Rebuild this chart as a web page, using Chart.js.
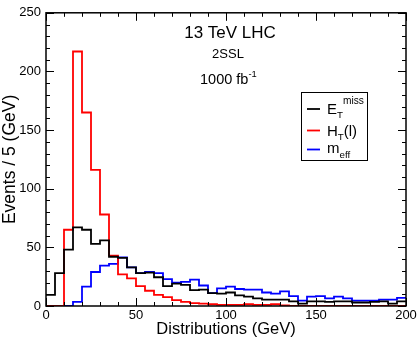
<!DOCTYPE html>
<html>
<head>
<meta charset="utf-8">
<script src="https://cdn.jsdelivr.net/npm/chart.js@4.4.1/dist/chart.umd.min.js"></script>
<style>
  html, body { margin: 0; padding: 0; background: #fff; }
  #wrap { width: 420px; height: 342px; }
</style>
</head>
<body>
<div id="wrap"><canvas id="histChart" width="420" height="342"></canvas></div>
<script>
// lower bin edges (GeV), bins are 5 GeV wide
const binEdges = [0, 5, 10, 15, 20, 25, 30, 35, 40, 45, 50, 55, 60, 65, 70, 75, 80, 85, 90, 95,
                  100, 105, 110, 115, 120, 125, 130, 135, 140, 145, 150, 155, 160, 165, 170, 175, 180, 185, 190, 195];
const lastEdge = 200;

const etMiss = [9.5, 28, 48, 67, 65, 53, 56, 42, 41, 33, 28, 28.5, 24.5, 17, 19, 18, 13.5, 14, 11, 10.5,
                11.5, 9, 8, 6.5, 5.5, 5.5, 5.5, 4, 2, 4, 4, 3.5, 4, 4, 3, 3, 3.5, 4, 2, 4];
const htLep = [0, 0, 65, 217, 165, 116, 78, 43, 27, 23.5, 17, 13, 9.5, 7.5, 5, 3.5, 2.5, 2, 1.5, 1,
               1, 1, 1.5, 1, 1, 1.5, 0.5, 0, 0, 0, 0, 0, 0, 0, 0, 0, 0, 0, 0, 0];
const mEff = [0, 0, 0, 3.5, 16.5, 29, 34.5, 36, 41.5, 33, 28, 29, 28, 23, 20, 20.5, 22.5, 17.5, 11, 15,
              16.5, 14.5, 14, 14, 11.5, 10.5, 12.5, 8.5, 4.5, 8, 8.5, 6.5, 8, 6.5, 4.5, 4.5, 4.5, 5.5, 5.5, 7];

const xTicks = [0, 50, 100, 150, 200];
const yTicks = [0, 50, 100, 150, 200, 250];

const FONT = '"Liberation Sans", Arial, Helvetica, sans-serif';

// each bin value is held from its lower edge to the next edge
function toSteps(vals) {
  const pts = binEdges.map((e, i) => ({ x: e, y: vals[i] }));
  pts.push({ x: lastEdge, y: vals[vals.length - 1] });
  return pts;
}

function histSet(label, vals, color) {
  return {
    label,
    data: toSteps(vals),
    borderColor: color,
    backgroundColor: color,
    borderWidth: 1.8,
    stepped: 'before',
    pointRadius: 0,
    fill: false
  };
}

// frame + inward ticks on all four sides, like the grace plot
const frameTicks = {
  id: 'frameTicks',
  afterDatasetsDraw(chart) {
    const { ctx, chartArea: a, scales: { x, y } } = chart;
    ctx.save();
    ctx.strokeStyle = '#000';
    ctx.lineWidth = 1;
    ctx.beginPath();
    for (let v = x.min; v <= x.max; v += 10) {
      const px = Math.round(x.getPixelForValue(v)) + 0.5;
      const len = xTicks.includes(v) ? 8 : 4;
      ctx.moveTo(px, a.bottom); ctx.lineTo(px, a.bottom - len);
      ctx.moveTo(px, a.top); ctx.lineTo(px, a.top + len);
    }
    for (let v = y.min; v <= y.max; v += 10) {
      const py = Math.round(y.getPixelForValue(v)) + 0.5;
      const len = yTicks.includes(v) ? 8 : 4;
      ctx.moveTo(a.left, py); ctx.lineTo(a.left + len, py);
      ctx.moveTo(a.right, py); ctx.lineTo(a.right - len, py);
    }
    ctx.stroke();
    ctx.lineWidth = 1.5;
    ctx.strokeRect(a.left, a.top, a.right - a.left, a.bottom - a.top);
    ctx.restore();
  }
};

// text with sub / superscripts for the labels and legend
function richText(ctx, x, y, parts, size) {
  let cx = x;
  parts.forEach(p => {
    const s = p.s ? size * p.s : size;
    ctx.font = s + 'px ' + FONT;
    ctx.fillText(p.t, cx, y + (p.dy || 0));
    cx += ctx.measureText(p.t).width;
  });
}

const notes = {
  id: 'notes',
  afterDraw(chart) {
    const ctx = chart.ctx;
    ctx.save();
    ctx.fillStyle = '#000';
    ctx.textBaseline = 'alphabetic';
    ctx.textAlign = 'center';
    ctx.font = '17px ' + FONT;
    ctx.fillText('13 TeV LHC', 230, 38);
    ctx.font = '13px ' + FONT;
    ctx.fillText('2SSL', 228, 58);
    ctx.textAlign = 'left';
    richText(ctx, 200, 84, [{ t: '1000 fb' }, { t: '-1', s: 0.65, dy: -7 }], 14.5);

    // legend box
    ctx.lineWidth = 1;
    ctx.strokeStyle = '#000';
    ctx.strokeRect(301.5, 92.5, 66, 68);
    const rows = [
      { c: '#000000', ly: 109, by: 114, parts: [{ t: 'E' }, { t: 'T', s: 0.65, dy: 4 }, { t: 'miss', s: 0.68, dy: -10 }] },
      { c: '#ff0000', ly: 130.5, by: 135.5, parts: [{ t: 'H' }, { t: 'T', s: 0.65, dy: 4 }, { t: '(l)' }] },
      { c: '#0000ff', ly: 149.5, by: 152.5, parts: [{ t: 'm' }, { t: 'eff', s: 0.65, dy: 5 }] }
    ];
    rows.forEach(r => {
      ctx.strokeStyle = r.c;
      ctx.lineWidth = 1.8;
      ctx.beginPath();
      ctx.moveTo(307, r.ly); ctx.lineTo(320, r.ly);
      ctx.stroke();
      ctx.fillStyle = '#000';
      richText(ctx, 327, r.by, r.parts, 15);
    });
    ctx.restore();
  }
};

new Chart(document.getElementById('histChart'), {
  type: 'line',
  data: {
    datasets: [
      histSet('E_T miss', etMiss, '#000000'),
      histSet('H_T(l)', htLep, '#ff0000'),
      histSet('m_eff', mEff, '#0000ff')
    ]
  },
  options: {
    responsive: false,
    animation: false,
    layout: { padding: { top: 5, right: 14, left: 0, bottom: 0 } },
    plugins: { legend: { display: false }, tooltip: { enabled: false } },
    scales: {
      x: {
        type: 'linear',
        min: 0, max: 200,
        afterBuildTicks: s => { s.ticks = xTicks.map(v => ({ value: v })); },
        afterFit: s => { s.height = 36; },
        grid: { display: false, drawTicks: false },
        border: { display: false },
        ticks: { color: '#000', padding: 2, maxRotation: 0, font: { family: FONT, size: 13 } },
        title: { display: true, text: 'Distributions (GeV)', color: '#000', padding: { top: 0, bottom: 3 }, font: { family: FONT, size: 16.5 } }
      },
      y: {
        min: 0, max: 250,
        afterBuildTicks: s => { s.ticks = yTicks.map(v => ({ value: v })); },
        afterFit: s => { s.width = 46; },
        grid: { display: false, drawTicks: false },
        border: { display: false },
        ticks: { color: '#000', padding: 5, font: { family: FONT, size: 13 } },
        title: { display: true, text: 'Events / 5 (GeV)', color: '#000', padding: { top: 0, bottom: 0 }, font: { family: FONT, size: 17.5 } }
      }
    }
  },
  plugins: [frameTicks, notes]
});
</script>
</body>
</html>
